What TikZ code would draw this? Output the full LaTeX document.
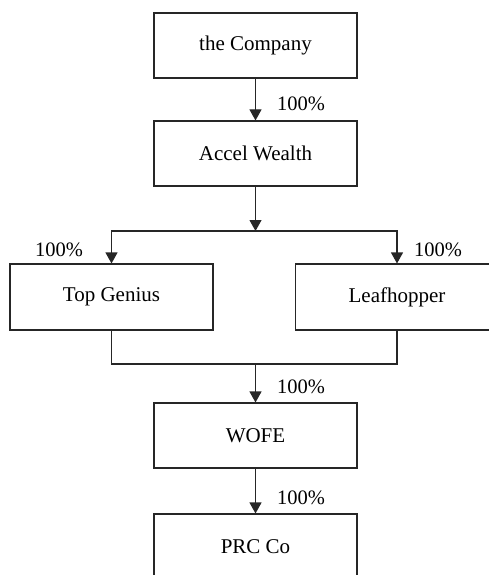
\documentclass[tikz,border=0pt]{standalone}
\usepackage{fontspec}
\setmainfont{Liberation Serif}
\usetikzlibrary{arrows.meta}
\begin{document}
\begin{tikzpicture}[x=1pt,y=-1pt,
  box/.style={draw=black!85, line width=1.1pt, minimum width=203pt, minimum height=65pt, inner sep=0pt, font=\fontsize{21}{25}\selectfont},
  lbl/.style={inner sep=0pt, font=\fontsize{20.5}{24}\selectfont},
  conn/.style={draw=black!85, line width=1.1pt},
  arr/.style={conn, -{Triangle[width=12pt,length=11pt]}}]
\useasboundingbox (0,0) rectangle (488,575);
\node[box] (c) at (255.5,45.5) {the Company};
\node[box] (a) at (255.5,153.5) {Accel Wealth};
\node[box, minimum height=66pt] (tg) at (111.5,297) {Top Genius};
\node[box, minimum height=66pt] (lh) at (397,297) {Leafhopper};
\node[box] (w) at (255.5,435.5) {WOFE};
\node[box] (p) at (255.5,546.5) {PRC Co};
\coordinate (j1) at (255.5,231);
\coordinate (j2) at (255.5,364);
\draw[arr] (c.south) -- (a.north);
\draw[arr] (a.south) -- (j1);
\draw[arr] (j1) -| (tg.north);
\draw[arr] (j1) -| (lh.north);
\draw[conn] (tg.south) |- (j2) -| (lh.south);
\draw[arr] (j2) -- (w.north);
\draw[arr] (w.south) -- (p.north);
\node[lbl] (l1) at (301,104) {100\%};
\node[lbl] (l2) at (59,250) {100\%};
\node[lbl] (l3) at (438,250) {100\%};
\node[lbl] (l4) at (301,387) {100\%};
\node[lbl] (l5) at (301,498) {100\%};
\end{tikzpicture}
\end{document}
